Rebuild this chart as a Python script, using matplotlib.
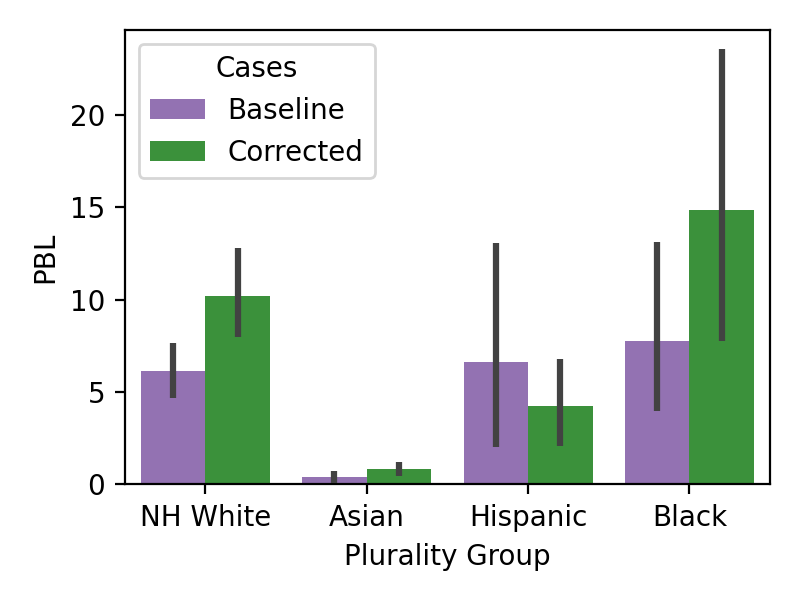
import matplotlib
matplotlib.use("Agg")
import matplotlib.pyplot as plt
import numpy as np

groups = ["NH White", "Asian", "Hispanic", "Black"]
cases = ["Baseline", "Corrected"]
baseline = [6.15, 0.41, 6.60, 7.78]
baseline_lo = [4.65, 0.09, 1.99, 3.94]
baseline_hi = [7.66, 0.72, 13.05, 13.10]
corrected = [10.22, 0.83, 4.25, 14.84]
corrected_lo = [7.96, 0.47, 2.08, 7.74]
corrected_hi = [12.81, 1.21, 6.80, 23.58]

colors = ["#9372b2", "#3b913b"]

fig = plt.figure(figsize=(4, 3), dpi=200)
ax = fig.add_axes([0.156, 0.193, 0.8065, 0.757])

x = np.arange(len(groups))
w = 0.4
series = [(baseline, baseline_lo, baseline_hi), (corrected, corrected_lo, corrected_hi)]
for i, (vals, lo, hi) in enumerate(series):
    pos = x - 0.2 + i * w
    ax.bar(pos, vals, width=w, color=colors[i], label=cases[i], zorder=2)
    ax.vlines(pos, lo, hi, color="#424242", linewidth=2.25, zorder=3)

ax.set_xlim(-0.5, len(groups) - 0.5)
ax.set_xticks(x)
ax.set_xticklabels(groups)
ax.set_yticks([0, 5, 10, 15, 20])
ax.set_ylim(0, 24.6)
ax.set_xlabel("Plurality Group")
ax.set_ylabel("PBL")
ax.legend(title="Cases", loc="upper left")

fig.savefig("out.png", dpi=200)
